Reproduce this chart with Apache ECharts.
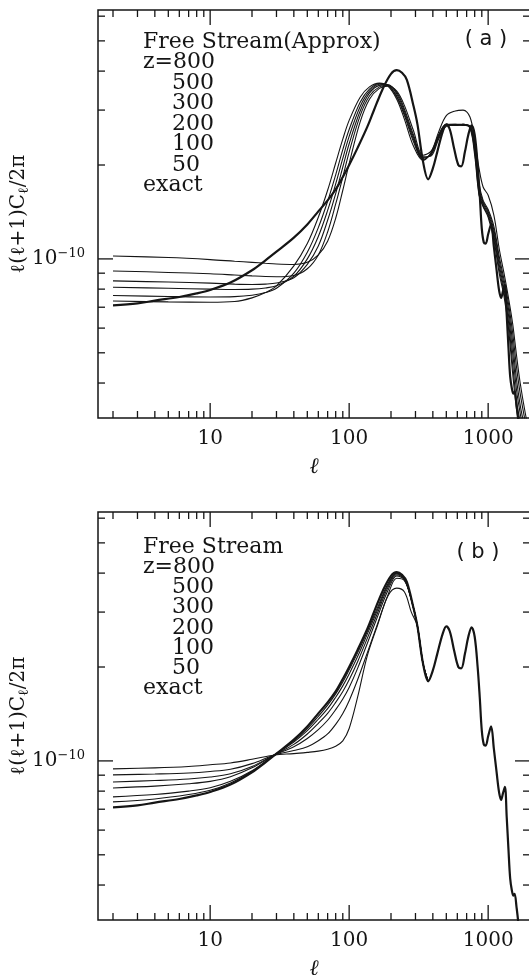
<!DOCTYPE html>
<html>
<head>
<meta charset="utf-8">
<script src="https://cdn.jsdelivr.net/npm/echarts@6/dist/echarts.min.js"></script>
<style>
  html, body { margin: 0; padding: 0; background: #fff; }
  #chart { width: 529px; height: 975px; }
</style>
</head>
<body>
<div id="chart"></div>
<script>
// values of l(l+1)C_l/2pi are given in units of 1e-10
const UNIT = 1e-10

// exact spectrum (same in both panels)
const ellExact = [2, 3, 4, 6, 8, 10, 14, 20, 25, 30, 40, 50, 60, 70, 80, 90, 100, 115, 135, 150, 175, 200, 220, 240, 260, 290, 310, 340, 370, 400, 430, 470, 500, 530, 570, 610, 640, 680, 720, 760, 800, 840, 870, 900, 930, 960, 1000, 1050, 1100, 1150, 1200, 1240, 1280, 1320, 1360, 1400, 1440, 1480, 1520, 1550, 1600, 1650, 1700, 1800]
const exactCl = [0.71, 0.72, 0.735, 0.755, 0.775, 0.795, 0.84, 0.92, 0.99, 1.055, 1.17, 1.29, 1.42, 1.54, 1.67, 1.83, 2.0, 2.27, 2.65, 2.98, 3.52, 3.92, 4.03, 3.95, 3.75, 3.1, 2.7, 2.05, 1.8, 1.95, 2.2, 2.55, 2.7, 2.6, 2.25, 2.0, 1.98, 2.2, 2.5, 2.68, 2.5, 2.0, 1.6, 1.25, 1.13, 1.12, 1.2, 1.29, 1.09, 0.92, 0.79, 0.75, 0.79, 0.825, 0.66, 0.52, 0.42, 0.385, 0.37, 0.375, 0.34, 0.3, 0.24, 0.17]

// panel (a): free streaming, approximate
const ellA = [2, 5, 10, 15, 20, 25, 30, 40, 50, 60, 70, 80, 90, 100, 120, 140, 165, 190, 220, 250, 290, 340, 390, 440, 500, 580, 660, 740, 800, 860, 920, 1000, 1100, 1200, 1300, 1400, 1500, 1600, 1700, 1850, 2000]
const aZ800 = [0.733, 0.728, 0.726, 0.73, 0.75, 0.78, 0.82, 0.95, 1.12, 1.36, 1.66, 2.03, 2.42, 2.78, 3.3, 3.56, 3.66, 3.58, 3.25, 2.8, 2.3, 2.07, 2.2, 2.5, 2.7, 2.7, 2.7, 2.62, 2.15, 1.6, 1.47, 1.36, 1.15, 0.9, 0.76, 0.6, 0.43, 0.33, 0.28, 0.22, 0.18]
const aZ500 = [0.763, 0.758, 0.755, 0.757, 0.765, 0.78, 0.805, 0.9, 1.05, 1.26, 1.53, 1.86, 2.24, 2.6, 3.18, 3.5, 3.65, 3.6, 3.3, 2.88, 2.38, 2.08, 2.18, 2.48, 2.7, 2.68, 2.7, 2.64, 2.2, 1.62, 1.48, 1.38, 1.18, 0.93, 0.78, 0.63, 0.46, 0.35, 0.3, 0.24, 0.19]
const aZ300 = [0.811, 0.805, 0.8, 0.798, 0.8, 0.807, 0.82, 0.88, 1.0, 1.18, 1.43, 1.74, 2.1, 2.47, 3.08, 3.45, 3.63, 3.6, 3.33, 2.92, 2.42, 2.1, 2.17, 2.46, 2.68, 2.7, 2.68, 2.66, 2.25, 1.66, 1.5, 1.4, 1.21, 0.96, 0.8, 0.66, 0.5, 0.38, 0.32, 0.26, 0.21]
const aZ200 = [0.85, 0.843, 0.836, 0.83, 0.828, 0.83, 0.837, 0.87, 0.96, 1.1, 1.33, 1.62, 1.97, 2.34, 2.98, 3.4, 3.6, 3.62, 3.38, 2.97, 2.46, 2.12, 2.16, 2.45, 2.68, 2.68, 2.7, 2.66, 2.3, 1.7, 1.52, 1.42, 1.24, 0.99, 0.83, 0.69, 0.54, 0.41, 0.34, 0.28, 0.23]
const aZ100 = [0.915, 0.905, 0.896, 0.888, 0.882, 0.878, 0.877, 0.885, 0.93, 1.03, 1.22, 1.5, 1.83, 2.2, 2.88, 3.33, 3.56, 3.6, 3.42, 3.02, 2.5, 2.12, 2.14, 2.42, 2.66, 2.69, 2.68, 2.67, 2.35, 1.75, 1.54, 1.44, 1.27, 1.02, 0.86, 0.72, 0.58, 0.45, 0.37, 0.3, 0.25]
const aZ50 = [1.022, 1.01, 0.995, 0.983, 0.975, 0.968, 0.963, 0.96, 0.975, 1.03, 1.14, 1.35, 1.66, 2.02, 2.75, 3.25, 3.52, 3.58, 3.45, 3.1, 2.58, 2.15, 2.22, 2.55, 2.88, 2.98, 3.0, 2.85, 2.4, 1.95, 1.7, 1.6, 1.38, 1.08, 0.9, 0.75, 0.62, 0.49, 0.4, 0.32, 0.27]

// panel (b): free streaming, full (curves join the exact one past l~340)
const ellB = [2, 4, 7, 10, 14, 20, 29, 40, 50, 60, 70, 80, 90, 100, 115, 135, 160, 190, 220, 250, 280, 310, 340, 370]
const bZ800 = [0.739, 0.755, 0.78, 0.805, 0.85, 0.925, 1.045, 1.16, 1.27, 1.39, 1.51, 1.64, 1.79, 1.96, 2.22, 2.6, 3.1, 3.7, 4.0, 3.84, 3.3, 2.7, 2.05, 1.8]
const bZ500 = [0.767, 0.78, 0.8, 0.82, 0.86, 0.93, 1.045, 1.15, 1.25, 1.36, 1.47, 1.6, 1.74, 1.9, 2.16, 2.55, 3.05, 3.66, 3.98, 3.83, 3.3, 2.7, 2.05, 1.8]
const bZ300 = [0.819, 0.83, 0.845, 0.86, 0.89, 0.95, 1.045, 1.13, 1.22, 1.32, 1.42, 1.54, 1.67, 1.82, 2.08, 2.47, 2.98, 3.6, 3.95, 3.82, 3.3, 2.7, 2.05, 1.8]
const bZ200 = [0.856, 0.865, 0.875, 0.888, 0.91, 0.96, 1.045, 1.11, 1.18, 1.26, 1.35, 1.46, 1.58, 1.72, 1.98, 2.38, 2.9, 3.52, 3.92, 3.8, 3.3, 2.7, 2.05, 1.8]
const bZ100 = [0.902, 0.908, 0.915, 0.925, 0.94, 0.98, 1.045, 1.08, 1.11, 1.16, 1.22, 1.31, 1.42, 1.56, 1.82, 2.22, 2.75, 3.4, 3.85, 3.78, 3.28, 2.7, 2.05, 1.8]
const bZ50 = [0.943, 0.95, 0.96, 0.972, 0.985, 1.012, 1.045, 1.055, 1.065, 1.075, 1.09, 1.115, 1.16, 1.27, 1.6, 2.17, 2.72, 3.38, 3.58, 3.48, 3.0, 2.7, 2.05, 1.8]

// ticks
const xMajorTicks = [10, 100, 1000]
const xMinorTicks = [2, 3, 4, 5, 6, 7, 8, 9, 20, 30, 40, 50, 60, 70, 80, 90, 200, 300, 400, 500, 600, 700, 800, 900]
const yMajorTicks = [1]
const yMinorTicks = [0.4, 0.5, 0.6, 0.7, 0.8, 0.9, 2, 3, 4, 5, 6]

const zLabels = ['800', '500', '300', '200', '100', '50']

const X_MIN = 1.56, X_MAX = 2000
const Y_MIN = 0.309 * UNIT, Y_MAX = 6.28 * UNIT
const INK = '#151515'
const SERIF = '"DejaVu Serif", serif'

const chart = echarts.init(document.getElementById('chart'), null, { renderer: 'canvas' })

function pairs(ls, cs) { return ls.map((l, i) => [l, cs[i] * UNIT]) }

function curve(idx, ls, cs, w) {
  return {
    type: 'line', xAxisIndex: idx, yAxisIndex: idx,
    data: pairs(ls, cs), showSymbol: false, symbol: 'none',
    smooth: 0.35, silent: true, clip: true,
    lineStyle: { color: INK, width: w },
  }
}

// inward ticks on all four sides, placed through the axes' own scales
function ticks(idx, vals, len, dir) {
  return {
    type: 'custom', xAxisIndex: idx, yAxisIndex: idx, silent: true, clip: false,
    data: vals.map(v => dir === 'x' ? [v, Y_MIN] : [X_MIN, v * UNIT]),
    renderItem(params, api) {
      const st = { stroke: INK, lineWidth: 1.3 }
      if (dir === 'x') {
        const v = api.value(0)
        const b = api.coord([v, Y_MIN]), t = api.coord([v, Y_MAX])
        return { type: 'group', children: [
          { type: 'line', shape: { x1: b[0], y1: b[1], x2: b[0], y2: b[1] - len }, style: st },
          { type: 'line', shape: { x1: t[0], y1: t[1], x2: t[0], y2: t[1] + len }, style: st },
        ] }
      }
      const v = api.value(1)
      const l = api.coord([X_MIN, v]), r = api.coord([X_MAX, v])
      return { type: 'group', children: [
        { type: 'line', shape: { x1: l[0], y1: l[1], x2: l[0] + len, y2: l[1] }, style: st },
        { type: 'line', shape: { x1: r[0], y1: r[1], x2: r[0] - len, y2: r[1] }, style: st },
      ] }
    },
  }
}

const panelTop = [10, 512]

function legendText(title, tag, top0, step, tagX, tagY) {
  const rows = [title].concat(zLabels.map((z, i) => i === 0 ? 'z=' + z : z), ['exact'])
  const out = rows.map((t, i) => ({
    type: 'text', x: (i === 0 || i === rows.length - 1 || i === 1) ? 143 : 172, y: top0 + i * step,
    style: { text: t, fill: INK, font: '22px ' + SERIF, verticalAlign: 'middle' },
    silent: true,
  }))
  out.push({
    type: 'text', x: tagX, y: tagY,
    style: { text: tag, fill: INK, font: '21px "DejaVu Sans"', align: 'center', verticalAlign: 'middle' },
    silent: true,
  })
  return out
}

const grids = panelTop.map(t => ({
  left: 98, width: 432, top: t, height: 408,
  containLabel: false, outerBoundsMode: 'none',
  show: true, borderColor: INK, borderWidth: 1.5, backgroundColor: 'transparent',
}))

const xAxes = panelTop.map((t, i) => ({
  type: 'log', gridIndex: i, min: X_MIN, max: X_MAX, logBase: 10,
  axisLine: { show: false }, axisTick: { show: false }, splitLine: { show: false },
  axisLabel: {
    margin: 11, fontSize: 20, fontFamily: SERIF, color: INK,
    formatter: v => {
      const e = Math.log10(v)
      return Math.abs(e - Math.round(e)) < 1e-6 && v >= 10 ? String(Math.round(v)) : ''
    },
  },
  name: 'ℓ', nameLocation: 'middle', nameGap: 38, nameMoveOverlap: false,
  nameTextStyle: { fontFamily: SERIF, fontStyle: 'italic', fontSize: 22, color: INK },
}))

const yAxes = panelTop.map((t, i) => ({
  type: 'log', gridIndex: i, min: Y_MIN, max: Y_MAX, logBase: 10,
  axisLine: { show: false }, axisTick: { show: false }, splitLine: { show: false },
  axisLabel: {
    margin: 13, color: INK,
    formatter: v => Math.abs(Math.log10(v) + 10) < 1e-6 ? '{b|10}{s|−10}' : '',
    rich: {
      b: { fontSize: 20, fontFamily: SERIF, color: INK, lineHeight: 24 },
      s: { fontSize: 13, fontFamily: SERIF, color: INK, verticalAlign: 'top', lineHeight: 13 },
    },
  },
  name: '{t|ℓ(ℓ+1)C}{s|ℓ}{t|/2π}', nameLocation: 'middle', nameRotate: 90, nameGap: 67,
  nameMoveOverlap: false,
  nameTextStyle: {
    rich: {
      t: { fontSize: 20, fontFamily: SERIF, color: INK, lineHeight: 24 },
      s: { fontSize: 14, fontFamily: SERIF, color: INK, verticalAlign: 'bottom', lineHeight: 14 },
    },
  },
}))

const series = []
;[0, 1].forEach(i => {
  series.push(ticks(i, xMajorTicks, 15, 'x'), ticks(i, xMinorTicks, 7, 'x'))
  series.push(ticks(i, yMajorTicks, 15, 'y'), ticks(i, yMinorTicks, 7, 'y'))
})
;[aZ800, aZ500, aZ300, aZ200, aZ100, aZ50].forEach(c => series.push(curve(0, ellA, c, 1.1)))
series.push(curve(0, ellExact, exactCl, 2.2))
;[bZ800, bZ500, bZ300, bZ200, bZ100, bZ50].forEach(c => series.push(curve(1, ellB, c, 1.1)))
series.push(curve(1, ellExact, exactCl, 2.2))

chart.setOption({
  animation: false,
  backgroundColor: '#fff',
  grid: grids,
  xAxis: xAxes,
  yAxis: yAxes,
  series,
  graphic: [
    ...legendText('Free Stream(Approx)', '( a )', 42, 20.5, 486, 40),
    ...legendText('Free Stream', '( b )', 547, 20.2, 478, 553),
  ],
})
</script>
</body>
</html>
